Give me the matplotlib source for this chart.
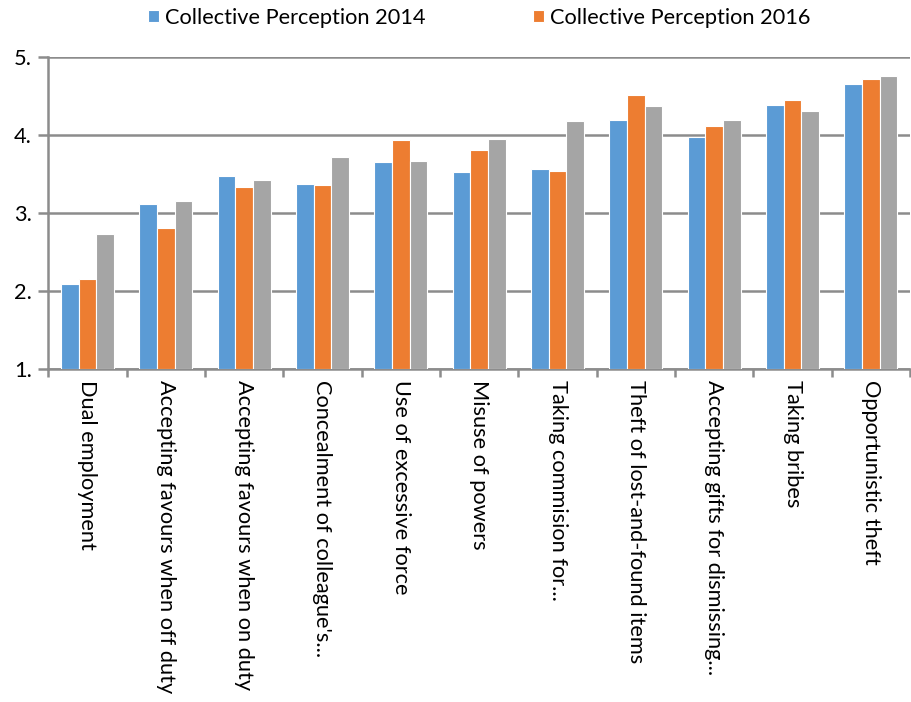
import numpy as np
import matplotlib
matplotlib.use("Agg")
from matplotlib import pyplot as plt
from matplotlib.ticker import FormatStrFormatter, FixedLocator

plt.rcParams['font.family'] = ['Lato', 'DejaVu Sans']

# categories and series values
categories = ["Dual employment",
              "Accepting favours when off duty",
              "Accepting favours when on duty",
              "Concealment of colleague's...",
              "Use of excessive force",
              "Misuse of powers",
              "Taking commision for...",
              "Theft of lost-and-found items",
              "Accepting gifts for dismissing...",
              "Taking bribes",
              "Opportunistic theft"]
perception_2014 = [2.09, 3.11, 3.47, 3.37, 3.65, 3.53, 3.57, 4.19, 3.97, 4.38, 4.65]
perception_2016 = [2.15, 2.81, 3.33, 3.36, 3.94, 3.81, 3.54, 4.51, 4.11, 4.45, 4.72]
third_series = [2.73, 3.16, 3.42, 3.72, 3.67, 3.95, 4.18, 4.37, 4.19, 4.31, 4.75]
series_names = ["Collective Perception 2014", "Collective Perception 2016", "_third"]
colors = ["#5B9BD5", "#ED7D31", "#A5A5A5"]
grid_color = "#8C8C8C"
fs = 15.7

fig = plt.figure(figsize=(9.11, 7.02), dpi=100)
ax = fig.add_axes([0.053, 0.474, 0.946, 0.445])

x = np.arange(len(categories))
w = 0.225
for i, (vals, name, c) in enumerate(zip([perception_2014, perception_2016, third_series],
                                        series_names, colors)):
    ax.bar(x + (i - 1) * w, np.array(vals) - 1, bottom=1, width=w, color=c,
           edgecolor="white", linewidth=0.8, label=name, zorder=3)

ax.set_xlim(-0.5, len(categories) - 0.5)
ax.set_ylim(1, 5)
ax.set_yticks([1, 2, 3, 4, 5])
ax.yaxis.set_major_formatter(FormatStrFormatter('%d.'))
ax.grid(axis='y', color=grid_color, linewidth=1.8, zorder=0)

ax.set_xticks(x)
ax.set_xticklabels(categories, rotation=-90, ha='center', va='top', fontsize=fs)
ax.tick_params(axis='x', which='major', length=0, pad=8)
ax.xaxis.set_minor_locator(FixedLocator(np.arange(len(categories) + 1) - 0.5))
ax.tick_params(axis='x', which='minor', length=6, width=1.8, color=grid_color)
ax.tick_params(axis='y', length=7, width=1.8, color=grid_color, labelsize=fs, pad=5)

for s in ['top', 'right']:
    ax.spines[s].set_visible(False)
for s in ['left', 'bottom']:
    ax.spines[s].set_color(grid_color)
    ax.spines[s].set_linewidth(1.8)

ax.legend(loc='lower center', bbox_to_anchor=(0.5, 1.03), ncol=2, frameon=False,
          fontsize=fs, handlelength=0.5, handleheight=0.5, handletextpad=0.3,
          columnspacing=4.9)

fig.savefig("out.png", dpi=100)
